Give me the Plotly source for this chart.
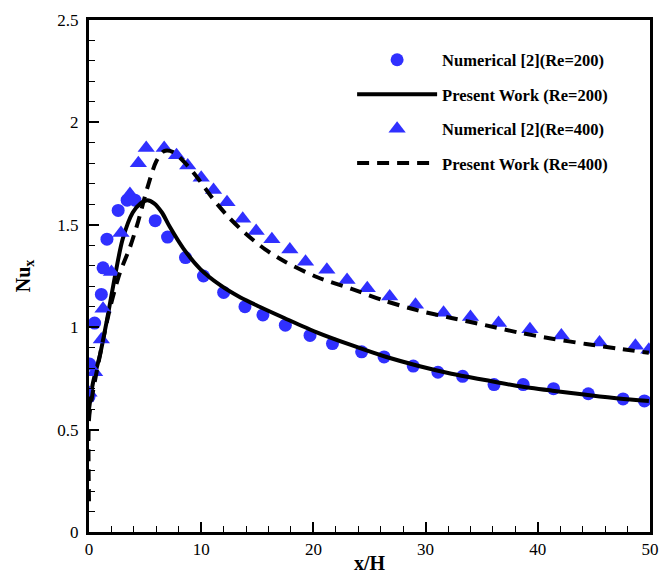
import plotly.graph_objects as go

# Numerical [2] (Re=200) - circles
num200_x = [0.0, 0.05, 0.5, 1.1, 1.25, 1.6, 2.6, 3.4, 4.1, 5.9, 7.0, 8.6, 10.2, 12.0, 13.9,
            15.5, 17.5, 19.7, 21.7, 24.3, 26.3, 28.9, 31.1, 33.3, 36.1, 38.7, 41.4, 44.5, 47.6, 49.5]
num200_y = [0.66, 0.82, 1.02, 1.16, 1.29, 1.43, 1.57, 1.62, 1.62, 1.52, 1.44, 1.34, 1.25, 1.17, 1.10,
            1.06, 1.01, 0.96, 0.92, 0.88, 0.855, 0.81, 0.78, 0.76, 0.72, 0.72, 0.70, 0.675, 0.65, 0.64]

# Present work (Re=200) - solid line
pw200_x = [0.0, 0.36, 1.0, 1.6, 2.3, 3.0, 3.9, 4.6, 5.2, 5.8, 6.5, 7.2, 8.4, 9.9, 11.7, 13.5, 15.2,
           17.4, 20.3, 23.4, 26.3, 29.3, 32.3, 35.3, 38.2, 41.3, 44.3, 47.2, 49.9]
pw200_y = [0.60, 0.73, 0.87, 1.035, 1.245, 1.43, 1.56, 1.605, 1.62, 1.605, 1.56, 1.49, 1.385, 1.285, 1.205, 1.145, 1.10,
           1.045, 0.975, 0.912, 0.858, 0.812, 0.773, 0.742, 0.713, 0.69, 0.67, 0.652, 0.64]

# Numerical [2] (Re=400) - triangles
num400_x = [0.0, 0.5, 1.1, 1.25, 2.0, 2.85, 3.65, 4.4, 5.1, 6.7, 7.8, 8.8, 10.0, 11.1, 12.3, 13.7,
            14.9, 16.3, 17.9, 19.3, 21.2, 23.0, 24.8, 26.8, 29.1, 31.6, 34.0, 36.5, 39.3, 42.1, 45.5, 48.7, 49.9]
num400_y = [0.68, 0.78, 0.94, 1.09, 1.27, 1.46, 1.65, 1.80, 1.875, 1.875, 1.84, 1.79, 1.73, 1.67, 1.61, 1.53,
            1.47, 1.43, 1.38, 1.32, 1.28, 1.23, 1.19, 1.15, 1.11, 1.07, 1.05, 1.02, 0.99, 0.96, 0.925, 0.91, 0.89]

# Present work (Re=400) - dashed line
pw400_x = [0.0, 0.0, 0.27, 1.0, 1.9, 2.75, 3.65, 4.4, 5.2, 6.0, 6.7, 7.5, 8.6, 9.8, 11.0, 12.4, 14.0,
           15.7, 17.4, 20.3, 23.4, 26.3, 29.3, 32.3, 35.3, 38.2, 41.3, 44.3, 47.2, 49.9]
pw400_y = [0.15, 0.55, 0.66, 0.87, 1.10, 1.265, 1.39, 1.52, 1.68, 1.81, 1.86, 1.855, 1.80, 1.72, 1.63, 1.54, 1.455,
           1.38, 1.322, 1.245, 1.187, 1.130, 1.082, 1.045, 1.01, 0.975, 0.944, 0.918, 0.895, 0.875]

x_ticks = [0, 10, 20, 30, 40, 50]
y_ticks = [0, 0.5, 1, 1.5, 2, 2.5]
y_tick_text = ["0", "0.5", "1", "1.5", "2", "2.5"]

BLUE = "#3030FF"

fig = go.Figure()
fig.add_trace(go.Scatter(x=num200_x, y=num200_y, mode="markers", name="Numerical [2](Re=200)",
                         legendgroup="a",
                         marker=dict(symbol="circle", size=13, color=BLUE)))
fig.add_trace(go.Scatter(x=pw200_x, y=pw200_y, mode="lines", name="Present Work (Re=200)",
                         legendgroup="b", line=dict(color="black", width=4, shape="spline", smoothing=0.8)))
fig.add_trace(go.Scatter(x=num400_x, y=num400_y, mode="markers", name="Numerical [2](Re=400)",
                         legendgroup="c",
                         marker=dict(symbol="triangle-up", size=15, color=BLUE)))
fig.add_trace(go.Scatter(x=pw400_x, y=pw400_y, mode="lines", name="Present Work (Re=400)",
                         legendgroup="d",
                         line=dict(color="black", width=4, dash="12px,8px", shape="spline", smoothing=0.8)))

axis_common = dict(
    showgrid=False, zeroline=False, showline=True, linecolor="black", linewidth=3,
    mirror=True, ticks="inside", tickcolor="black", tickwidth=2, ticklen=10,
    tickfont=dict(family="Liberation Serif", size=17, color="black"),
    automargin=False,
)

fig.update_xaxes(range=[0, 50], tickvals=x_ticks,
                 minor=dict(dtick=2, ticks="inside", ticklen=6, tickwidth=1, tickcolor="black"),
                 title=dict(text="<b>x/H</b>", font=dict(family="Liberation Serif", size=20, color="black"),
                            standoff=0),
                 **axis_common)
fig.update_yaxes(range=[0, 2.5], tickvals=y_ticks, ticktext=y_tick_text,
                 minor=dict(dtick=0.1, ticks="inside", ticklen=6, tickwidth=1, tickcolor="black"),
                 title=dict(text="<b>Nu<sub>x</sub></b>", font=dict(family="Liberation Serif", size=20, color="black"),
                            standoff=22),
                 ticklabelstandoff=4,
                 **axis_common)

fig.update_layout(
    width=659, height=574,
    margin=dict(l=89, r=9, t=20, b=42),
    plot_bgcolor="white", paper_bgcolor="white",
    legend=dict(x=0.469, y=0.956, xanchor="left", yanchor="top",
                font=dict(family="Liberation Serif", size=16.5, color="black", weight="bold"),
                itemwidth=80, tracegroupgap=10, bgcolor="rgba(0,0,0,0)",
                itemsizing="trace"),
)

fig.write_html("out.html", config={"displayModeBar": False},
               post_script="document.body.style.margin='0';")
